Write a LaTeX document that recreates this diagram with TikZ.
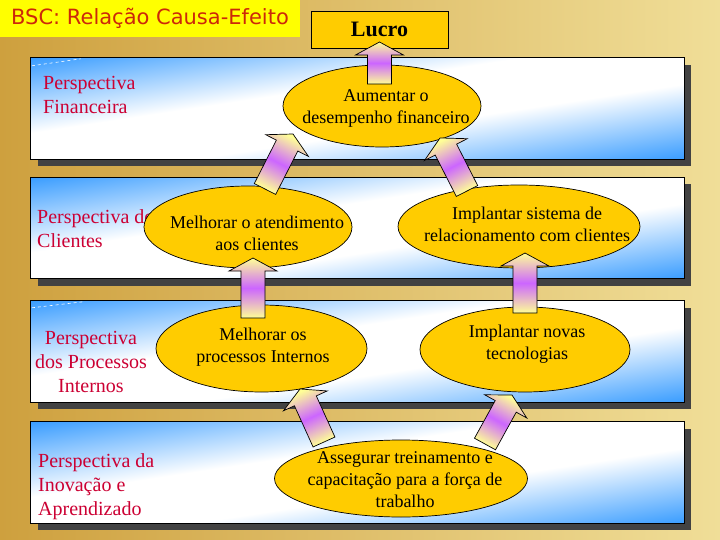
\documentclass[tikz,border=0pt]{standalone}
\usepackage{fontspec}
\setmainfont{Liberation Serif}
\newfontfamily\titlefont{DejaVu Sans}
\usetikzlibrary{shapes.geometric,shadows,calc}
\definecolor{bgdark}{RGB}{206,160,62}
\definecolor{bglight}{RGB}{240,222,152}
\definecolor{titleyellow}{RGB}{255,255,0}
\definecolor{titlered}{RGB}{204,40,10}
\definecolor{goldfill}{RGB}{255,204,0}
\definecolor{perspred}{RGB}{204,0,51}
\definecolor{bandblue}{RGB}{40,148,255}
\definecolor{shadowgray}{RGB}{66,66,66}
\definecolor{arrY}{RGB}{255,255,150}
\definecolor{arrV}{RGB}{204,102,255}
\pgfdeclareverticalshading{bandsh}{100bp}{color(0bp)=(bandblue); color(12bp)=(bandblue); color(41bp)=(white); color(59bp)=(white); color(88bp)=(bandblue); color(100bp)=(bandblue)}
\newcommand\blockarrow[2]{%
  \pgfmathanglebetweenpoints{\pgfpointanchor{#1}{center}}{\pgfpointanchor{#2}{center}}%
  \pgfmathsetmacro\baang{\pgfmathresult-90}%
  \coordinate (bah) at ($(#2)!13pt!(#1)$);
  \path[barrow, shading angle=\baang]
    ($(#1)!12pt!90:(#2)$) -- ($(bah)!12pt!90:(#2)$) -- ($(bah)!24pt!90:(#2)$) -- (#2)
    -- ($(bah)!24pt!-90:(#2)$) -- ($(bah)!12pt!-90:(#2)$) -- ($(#1)!12pt!-90:(#2)$) -- cycle;
}
\newcommand\bandfill[1]{%
  \shade[shading=bandsh, shading angle=45,
    transform canvas={shift={(#1.center)}, xscale=6.53}] (-50,-50.5) rectangle (50,50.5);
  \draw[bandborder] (#1.north west) rectangle (#1.south east);
}
\begin{document}
\begin{tikzpicture}[x=1pt,y=-1pt,
  band/.style={rectangle, fill=white, minimum width=653pt, minimum height=101pt, inner sep=0pt,
    drop shadow={shadow xshift=7pt, shadow yshift=-7pt, fill=shadowgray, opacity=1}},
  bandborder/.style={draw=black, line width=0.8pt},
  persp/.style={align=left, font=\fontsize{20}{24}\selectfont, text=perspred, inner sep=0pt},
  goal/.style={ellipse, draw=black, line width=0.7pt, fill=goldfill, inner sep=0pt},
  goaltext/.style={align=center, font=\fontsize{18}{22}\selectfont, text=black, inner sep=0pt},
  titlebox/.style={rectangle, fill=titleyellow, minimum width=300pt, minimum height=37pt, inner sep=0pt,
    font=\titlefont\fontsize{21}{25}\selectfont, text=titlered},
  lucrobox/.style={rectangle, draw=black, line width=0.8pt, fill=goldfill, minimum width=137pt, minimum height=37pt,
    inner sep=0pt, font=\fontsize{22}{26}\selectfont\bfseries},
  barrow/.style={draw=black, line width=0.7pt, top color=arrY, bottom color=arrY, middle color=arrV},
  dashline/.style={draw=white, dashed, line width=0.6pt}]
\useasboundingbox (0,0) rectangle (720,540);
\fill[left color=bgdark, right color=bglight] (0,0) rectangle (720,540);

% title
\node[titlebox] (title) at (150,18.5) {BSC: Relação Causa-Efeito};

% perspective bands
\node[band] (b1) at (357.5,108.5) {};
\bandfill{b1}
\node[band] (b2) at (357.5,228) {};
\bandfill{b2}
\node[band] (b3) at (357.5,351.5) {};
\bandfill{b3}
\node[band] (b4) at (357.5,472.5) {};
\bandfill{b4}
\draw[dashline] ($(b1.north west)+(1,8)$) -- ($(b1.north west)+(50,1)$);
\draw[dashline] ($(b3.north west)+(1,7)$) -- ($(b3.north west)+(52,1)$);

% perspective labels
\node[persp, anchor=west] (p1) at (43,95) {Perspectiva\\Financeira};
\node[persp, anchor=west] (p2) at (37,228.5) {Perspectiva de\\Clientes};
\node[persp, align=center] (p3) at (91,362) {Perspectiva\\dos Processos\\Internos};
\node[persp, anchor=west] (p4) at (38,486.5) {Perspectiva da\\Inovação e\\Aprendizado};

% goals
\node[goal, minimum width=198pt, minimum height=82pt] (e1) at (382,106) {};
\node[goal, minimum width=208pt, minimum height=82pt] (e2) at (248,227) {};
\node[goal, minimum width=242pt, minimum height=83pt] (e3) at (519,226.5) {};
\node[goal, minimum width=211pt, minimum height=87pt] (e4) at (261.5,348.5) {};
\node[goal, minimum width=210pt, minimum height=85pt] (e5) at (525,349.5) {};
\node[goal, minimum width=253pt, minimum height=77pt] (e6) at (401,478.5) {};
\node[goaltext] (t1) at (386,108) {Aumentar o\\desempenho financeiro};
\node[goaltext] (t2) at (257,233) {Melhorar o atendimento\\aos clientes};
\node[goaltext] (t3) at (527,224) {Implantar sistema de\\relacionamento com clientes};
\node[goaltext] (t4) at (263,347) {Melhorar os\\processos Internos};
\node[goaltext] (t5) at (527,344) {Implantar novas\\tecnologias};
\node[goaltext] (t6) at (405,480) {Assegurar treinamento e\\capacitação para a força de\\trabalho};

% result
\node[lucrobox] (lucro) at (379.5,29.5) {Lucro};

% arrow end points
\coordinate (a1s) at (379.5,84);  \coordinate (a1e) at (379.5,42);
\coordinate (a2s) at (265,189);   \coordinate (a2e) at (293,134);
\coordinate (a3s) at (467,191);   \coordinate (a3e) at (440,138);
\coordinate (a4s) at (253,318);   \coordinate (a4e) at (253,258);
\coordinate (a5s) at (525,313);   \coordinate (a5e) at (525,253);
\coordinate (a6s) at (324,442);   \coordinate (a6e) at (300,389);
\coordinate (a7s) at (485,444);   \coordinate (a7e) at (512,395);

\blockarrow{a1s}{a1e}
\blockarrow{a2s}{a2e}
\blockarrow{a3s}{a3e}
\blockarrow{a4s}{a4e}
\blockarrow{a5s}{a5e}
\blockarrow{a6s}{a6e}
\blockarrow{a7s}{a7e}
\end{tikzpicture}
\end{document}
